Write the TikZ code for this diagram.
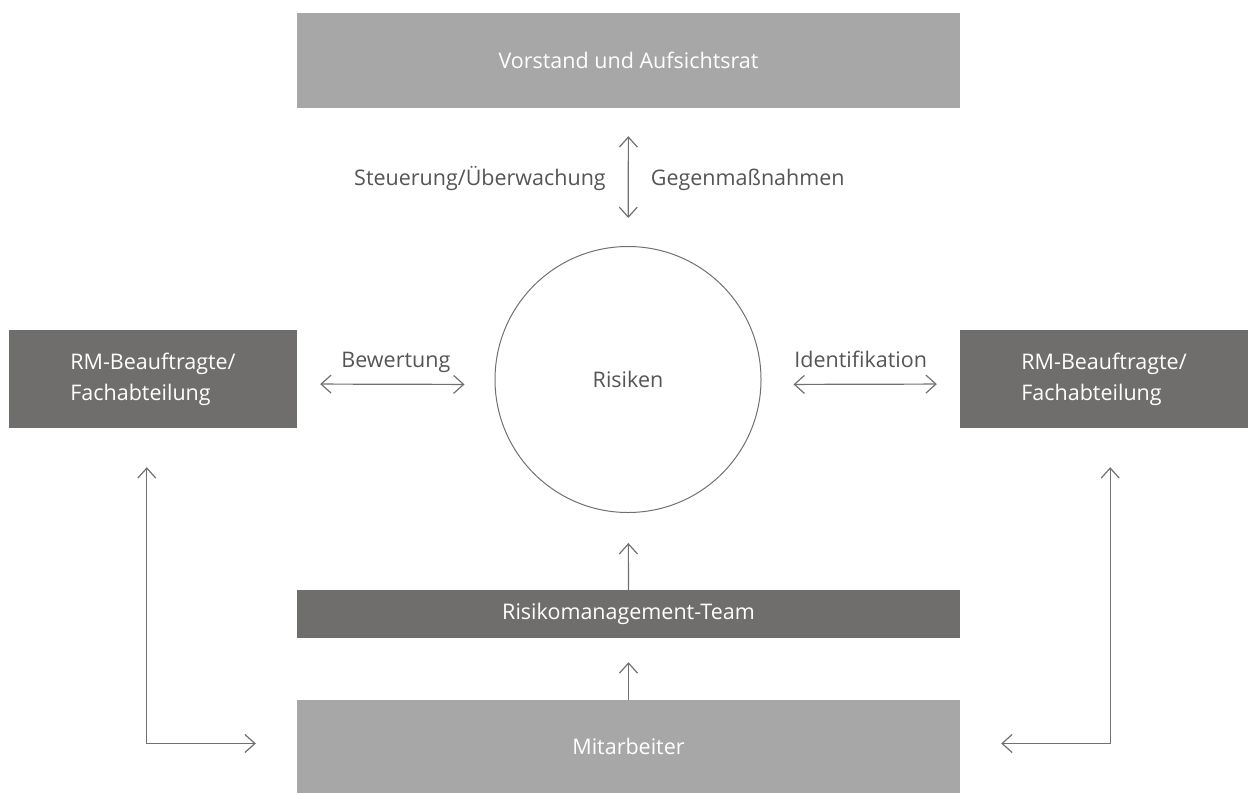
\documentclass[tikz,border=0pt]{standalone}
\usepackage{fontspec}
\setmainfont{Open Sans}
\usepackage{tikz}
\usetikzlibrary{arrows.meta}
\usetikzlibrary{positioning}
\definecolor{boxlight}{HTML}{A7A7A7}
\definecolor{boxdark}{HTML}{6F6E6C}
\definecolor{textgray}{HTML}{555555}
\definecolor{linegray}{HTML}{707070}
\newcommand{\diagfont}{\fontsize{21.5}{31}\selectfont}
\tikzstyle{every node}+=[inner sep=0pt]
\tikzstyle{block} = [rectangle, fill=boxlight, text=white, font=\diagfont, minimum width=663pt]
\tikzstyle{darkblock} = [block, fill=boxdark]
\tikzstyle{line} = [draw=linegray, line width=1.2pt]
\tikzstyle{lbl} = [text=textgray, font=\diagfont]

\begin{document}
\begin{tikzpicture}[x=1pt, y=-1pt, >={Straight Barb[length=10pt,width=18pt]}]
          \useasboundingbox (0,0) rectangle (1252,793);
          % Place nodes
          \node [block, minimum height=95pt] (board) at (628.5,60.5) {Vorstand und Aufsichtsrat};
          \node [circle, draw=linegray, line width=1pt, minimum size=266pt, lbl] (risk) at (628,379.5) {Risiken};
          \node [darkblock, minimum width=288pt, minimum height=98pt, align=left] (left) at (153,379) {RM-Beauftragte/\\Fachabteilung};
          \node [darkblock, minimum width=288pt, minimum height=98pt, align=left] (right) at (1104,379) {RM-Beauftragte/\\Fachabteilung};
          \node [darkblock, minimum height=48pt] (team) at (628.5,614) {Risikomanagement-Team};
          \node [block, minimum height=93pt] (staff) at (628.5,746.5) {Mitarbeiter};
          \coordinate (lturn) at ([xshift=-150pt,yshift=3pt]staff.west);
          \coordinate (rturn) at ([xshift=150pt,yshift=3pt]staff.east);
          % Draw edges
          \path [line, <->, shorten <=28pt, shorten >=28pt] (board) --
            node [lbl, anchor=base east, xshift=-22pt, yshift=-8pt] (steer) {Steuerung/Überwachung}
            node [lbl, anchor=base west, xshift=22pt, yshift=-8pt] (counter) {Gegenmaßnahmen} (risk);
          \path [line, <->, shorten <=23pt, shorten >=30pt] ([yshift=-5pt]left.east) --
            node [lbl, anchor=base, yshift=17pt] (assess) {Bewertung} ([yshift=-5pt]risk.west);
          \path [line, <->, shorten <=32pt, shorten >=23pt] ([yshift=-5pt]risk.east) --
            node [lbl, anchor=base, yshift=17pt] (ident) {Identifikation} ([yshift=-5pt]right.west);
          \path [line, ->, shorten >=30pt] (team) -- (risk);
          \path [line, ->, shorten >=24pt] (staff) -- (team);
          \path [line, <->, shorten <=39pt, shorten >=41pt] (left.south -| lturn) -- (lturn) -- (lturn -| staff.west);
          \path [line, <->, shorten <=39pt, shorten >=41pt] (right.south -| rturn) -- (rturn) -- (rturn -| staff.east);
        \end{tikzpicture}
\end{document}
